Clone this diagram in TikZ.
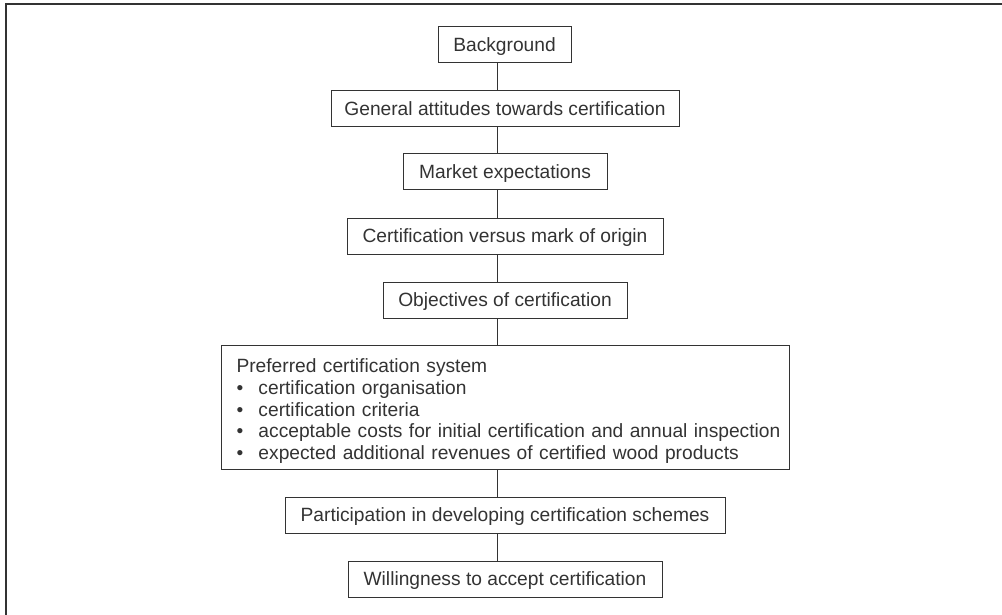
\documentclass[tikz,border=0pt]{standalone}
\usepackage{fontspec}
\setmainfont{Liberation Sans}
\definecolor{ink}{HTML}{333333}
\newcommand{\bitem}[1]{\mbox{\makebox[22pt][l]{\textbullet}#1}}
\begin{document}
\begin{tikzpicture}[x=1pt,y=-1pt,
  box/.style={draw=ink,line width=1pt,inner sep=0pt,minimum height=36pt,
    text height=13.8pt,text depth=0pt,text=ink,font=\fontsize{19.2}{21.75}\selectfont},
  link/.style={draw=ink,line width=1pt}]
\useasboundingbox (0,0) rectangle (1002,615);
\draw[ink,line width=2pt] (6,615) -- (6,4) -- (1002,4);
\coordinate (cx) at (497.5,0);
\node[box,minimum width=133pt] (bg) at (504.5,45) {Background};
\node[box,minimum width=348pt] (ga) at (505,109) {General attitudes towards certification};
\node[box,minimum width=204pt] (me) at (505,172) {Market expectations};
\node[box,minimum width=316pt] (cv) at (505,236) {Certification versus mark of origin};
\node[box,minimum width=244pt] (ob) at (505,300) {Objectives of certification};
\node[box,anchor=north west,inner xsep=15pt,text width=538pt,align=left,
  text height=27pt,text depth=97pt,minimum height=0pt] (pc) at (221,345)
  {\mbox{Preferred certification system}\\
   \bitem{certification organisation}\\
   \bitem{certification criteria}\\
   \bitem{acceptable costs for initial certification and annual inspection}\\
   \bitem{expected additional revenues of certified wood products}};
\node[box,minimum width=440pt] (pd) at (505,515) {Participation in developing certification schemes};
\node[box,minimum width=314pt] (wa) at (505,579) {Willingness to accept certification};
\draw[link] (bg.south -| cx) -- (ga.north -| cx);
\draw[link] (ga.south -| cx) -- (me.north -| cx);
\draw[link] (me.south -| cx) -- (cv.north -| cx);
\draw[link] (cv.south -| cx) -- (ob.north -| cx);
\draw[link] (ob.south -| cx) -- (pc.north -| cx);
\draw[link] (pc.south -| cx) -- (pd.north -| cx);
\draw[link] (pd.south -| cx) -- (wa.north -| cx);
\end{tikzpicture}
\end{document}
